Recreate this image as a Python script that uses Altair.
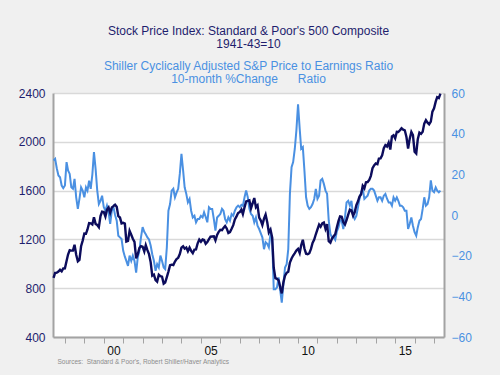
import altair as alt
import pandas as pd

# Monthly observations, June 1997 .. May 2017
start_month = "1997-06-01"

# S&P 500 composite (1941-43=10), monthly
sp500 = [
    885, 925, 927, 937, 951, 938, 962,
    963, 1023, 1076, 1112, 1108, 1108, 1156, 1074, 1020, 1032, 1144, 1190,
    1248, 1246, 1281, 1334, 1332, 1322, 1381, 1327, 1318, 1300, 1391, 1428,
    1425, 1388, 1442, 1461, 1418, 1462, 1473, 1485, 1468, 1390, 1379, 1331,
    1336, 1330, 1183, 1188, 1270, 1238, 1205, 1179, 1044, 1077, 1129, 1144,
    1140, 1101, 1153, 1112, 1079, 1014, 903, 912, 867, 854, 910, 899,
    895, 837, 846, 890, 936, 988, 993, 990, 1019, 1038, 1049, 1080,
    1132, 1144, 1124, 1133, 1103, 1133, 1106, 1088, 1117, 1118, 1168, 1199,
    1181, 1199, 1195, 1164, 1178, 1202, 1222, 1224, 1225, 1192, 1237, 1262,
    1278, 1276, 1294, 1310, 1290, 1253, 1260, 1287, 1317, 1363, 1389, 1416,
    1424, 1445, 1407, 1463, 1511, 1515, 1520, 1455, 1497, 1539, 1463, 1479,
    1378, 1354, 1317, 1370, 1403, 1341, 1257, 1281, 1217, 968, 883, 877,
    865, 805, 757, 848, 902, 926, 935, 1010, 1044, 1068, 1088, 1110,
    1123, 1089, 1152, 1197, 1125, 1083, 1079, 1087, 1122, 1171, 1198, 1242,
    1282, 1321, 1304, 1331, 1338, 1287, 1325, 1185, 1173, 1207, 1226, 1243,
    1300, 1352, 1389, 1386, 1341, 1323, 1359, 1403, 1443, 1437, 1394, 1422,
    1480, 1512, 1551, 1570, 1639, 1619, 1668, 1670, 1688, 1721, 1783, 1807,
    1822, 1817, 1863, 1864, 1889, 1947, 1973, 1961, 1993, 1937, 2044, 2054,
    2028, 2082, 2080, 2094, 2111, 2099, 2094, 2039, 1944, 2024, 2080, 2054,
    1919, 1904, 2022, 2075, 2065, 2083, 2149, 2177, 2157, 2143, 2165, 2247,
    2275, 2329, 2366, 2359, 2395,
]

# Shiller CAPE, 10-month % change
cape_chg = [
    26.8, 27.6, 23, 19.4, 18.6, 14.5, 13.2,
    14.5, 26, 21.9, 20.2, 13.6, 12.9, 17.8, 8.7, 3, 7.9, 13.6, 12,
    8.7, 13.6, 12, 16.9, 12.9, 20, 30.9, 22.7, 12, 5.4, 7, 9.5,
    3.9, 2.1, 4.6, 1.3, -4.4, 2.1, 3.9, 0, -2.8, -10.2, -11, -11.8,
    -17.6, -20.5, -22.6, -25, -20, -22.6, -20, -22.6, -28.3, -21, -17.6, -11,
    -6, -8.3, -9.5, -11, -12, -15, -19.3, -22.5, -27.4, -24.2, -25.8, -20,
    -22.6, -25.8, -26.6, -16, 2.1, 5.4, 12, 12.9, 8.7, 11, 12.9, 20.2,
    30.1, 21.9, 13.6, 10.4, 6.2, 7.9, 2.1, -1.2, -0.4, -3.6, -2, -2,
    -0.4, -1.2, 1.3, -1, -3.6, 3.8, 3, 3, -2, -7.7, -1.2, -0.4,
    0.5, 3, 2.1, -2, -3.6, -1.2, -2.8, 0.5, -0.4, 2.1, 3.8, 4.6,
    3.8, 5, 4.5, 8.7, 12, 8.7, 3, 0.5, -0.4, -3.6, -1.2, -5.3,
    -6.9, -9, -11, -16.8, -13.4, -14.2, -15.9, -9.3, -11, -36.5, -36.5, -35.6,
    -30.7, -37.3, -43.1, -34, -25.8, -24.2, -16.8, 10.4, 23.5, 26, 32.6, 41.6,
    54.4, 42.4, 32.6, 33.4, 21.9, 8.7, 4.6, 3, 3.8, 5.4, 7.9, 12.8,
    7.9, 9.5, 17, 17.8, 15.3, 12, 10.4, -2.8, -9.3, -11, -11, -12.2,
    -8, -6, -2.5, -2.8, -6.9, -1.2, 6.2, 7, 4.6, 7, -0.3, -2,
    -0.4, 3.8, 7.9, 11.2, 12.9, 7.9, 8.7, 9.5, 12, 12.9, 12.9, 12,
    9.5, 7, 8.7, 8.7, 7, 9.5, 10.4, 8, 6.2, 6.2, 4.6, 8.7,
    7, 8.7, 7, 4.6, 4.6, 3.8, 2.1, 2.1, -6.9, -4.4, -1.2, -5.3,
    -8.5, -10.2, -6.1, -2.8, -2, 3, 8.7, 4.6, 5.4, 8.7, 17, 12,
    11.2, 13.6, 12, 11.2, 12,
]

left_ticks = [400, 800, 1200, 1600, 2000, 2400]
right_ticks = [-60, -40, -20, 0, 20, 40, 60]
tick_years = list(range(1998, 2018))

assert len(sp500) == len(cape_chg)
dates = pd.date_range(start_month, periods=len(sp500), freq="MS").strftime("%Y-%m-%d").tolist()
df = pd.DataFrame({"date": dates, "sp500": sp500, "cape_chg": cape_chg})

NAVY = "#0c0c5c"
NAVY_TXT = "#1e1e6e"
BLUE = "#4a90e2"
GREY = "#a3a3a3"
FONT = "Liberation Sans"
NB = "\u00a0"

x_enc = alt.X(
    "date:T",
    scale=alt.Scale(domain=[alt.DateTime(year=1997, month=5, date=22),
                            alt.DateTime(year=2017, month=7, date=7)]),
    axis=alt.Axis(
        values=[alt.DateTime(year=y, month=1, date=1) for y in tick_years],
        labelExpr="year(datum.value) % 5 == 0 ? timeFormat(datum.value, '%y') : ''",
        labelOffset=9.7, tickSize=6, tickColor=GREY, tickWidth=1,
        domainColor=GREY, domainWidth=2, grid=False,
        labelFontSize=12, labelColor="#111111", labelFont=FONT,
        labelPadding=2, labelFlush=False, labelOverlap=False,
        title="Sources:  Standard & Poor's, Robert Shiller/Haver Analytics".replace("  ", NB + NB),
        titleX=4, titleY=24, titleAlign="left", titleAnchor="start",
        titleBaseline="middle", titleFontSize=6.5, titleColor="#8c8c8c",
        titleFontWeight="normal", titleFont=FONT,
    ),
)

base = alt.Chart(df)

blue_line = base.mark_line(color=BLUE, strokeWidth=2).encode(
    x=x_enc,
    y=alt.Y("cape_chg:Q", scale=alt.Scale(domain=[-60, 60]),
            axis=alt.Axis(orient="right", values=right_ticks, grid=False, ticks=False,
                          domainColor=GREY, domainWidth=2, labelColor=BLUE,
                          labelFontSize=12, labelFont=FONT, labelPadding=7,
                          labelOverlap=False, title=None, format="d")),
)

navy_line = base.mark_line(color=NAVY, strokeWidth=2.4).encode(
    x=x_enc,
    y=alt.Y("sp500:Q", scale=alt.Scale(domain=[400, 2400]),
            axis=alt.Axis(orient="left", values=left_ticks, grid=True,
                          gridColor="#d9d9d9", gridWidth=1.5, ticks=False,
                          domainColor=GREY, domainWidth=2, labelColor=NAVY_TXT,
                          labelFontSize=12, labelFont=FONT, labelPadding=8,
                          labelOverlap=False, title=None, format="d")),
)

chart = alt.layer(blue_line, navy_line).resolve_scale(y="independent").properties(
    width=391,
    height=244,
    title=alt.TitleParams(
        text=["Stock Price Index: Standard & Poor's 500 Composite", "1941-43=10"],
        subtitle=["Shiller Cyclically Adjusted S&P Price to Earnings Ratio",
                  "10-month %Change" + NB * 6 + "Ratio"],
        font=FONT, fontSize=12, fontWeight="normal", color=NAVY_TXT, lineHeight=13,
        subtitleFont=FONT, subtitleFontSize=12, subtitleFontWeight="normal",
        subtitleColor=BLUE, subtitleLineHeight=13, subtitlePadding=10,
        offset=1, anchor="middle",
    ),
    padding={"left": 53, "top": 93, "right": 56, "bottom": 38},
    autosize=alt.AutoSizeParams(type="none"),
    background="#f0f0f0",
).configure_view(fill="white", strokeWidth=0)

chart.save("out.html", embed_options={"renderer": "svg", "actions": False})
